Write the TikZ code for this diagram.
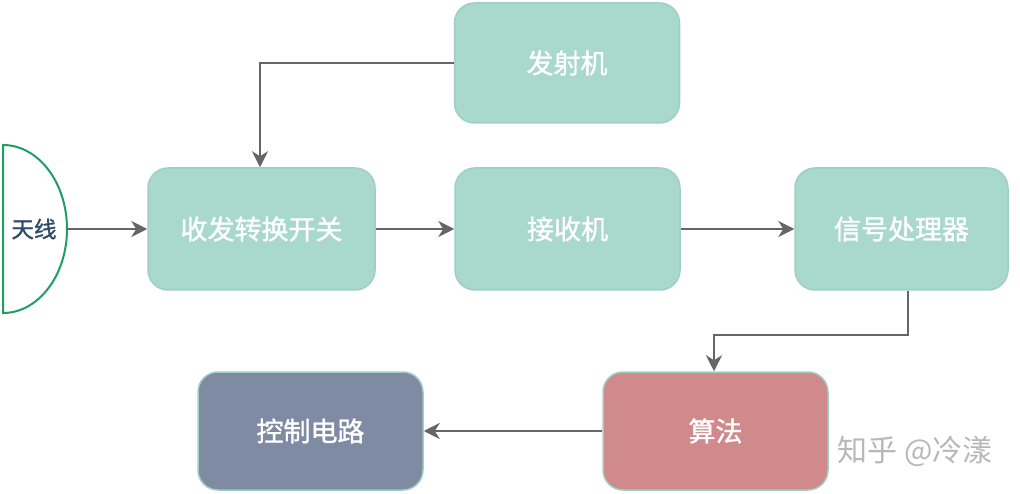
\documentclass[tikz,border=0pt]{standalone}
\usepackage{fontspec}
\setmainfont{Noto Sans CJK SC}
\newfontfamily\cjk[FakeBold=1.2]{Noto Sans CJK SC}
\newfontfamily\cjkplain{Noto Sans CJK SC}
\usetikzlibrary{arrows.meta,calc}
\definecolor{teal1}{HTML}{A9D8CC}
\definecolor{tealedge}{HTML}{9FCFC3}
\definecolor{red1}{HTML}{D08A8B}
\definecolor{slate1}{HTML}{7E8BA3}
\definecolor{arrgray}{HTML}{666666}
\definecolor{antgreen}{HTML}{1E9E60}
\definecolor{anttext}{HTML}{2D4A6A}
\tikzset{
  blk/.style={rounded corners=20pt, draw=tealedge, line width=1.5pt, minimum width=225pt, minimum height=120pt, text=white, font=\cjk\fontsize{27}{32}\selectfont, inner sep=0pt},
  arr/.style={draw=arrgray, line width=2pt, -{Stealth[length=16pt,width=16pt,inset=5pt]}},
}
\begin{document}
\begin{tikzpicture}[x=1pt,y=1pt]
\useasboundingbox (0,0) rectangle (1020,493);
% boxes
\node[blk, fill=teal1] (tx) at (567,430) {发射机};
\node[blk, fill=teal1, minimum width=227pt, minimum height=122pt] (sw) at (261.5,264) {收发转换开关};
\node[blk, fill=teal1, minimum height=122pt] (rx) at (567.5,264) {接收机};
\node[blk, fill=teal1, minimum width=213pt, minimum height=122pt] (pr) at (901.5,264) {信号处理器};
\node[blk, fill=red1, minimum height=118pt] (al) at (715.5,62) {算法};
\node[blk, fill=slate1, minimum height=118pt] (ct) at (310.5,62) {控制电路};
% antenna
\draw[antgreen, line width=2pt] (3,180) -- (3,348) arc[start angle=90, end angle=-90, x radius=64, y radius=84] -- cycle;
\node[text=anttext, font=\cjk\fontsize{22.5}{26}\selectfont, inner sep=0pt] (antlbl) at (34,264) {天线};
\coordinate (ant) at (67,264);
% connectors
\draw[arr] (ant) -- (sw.west);
\draw[arr] (sw.east) -- (rx.west);
\draw[arr] (rx.east) -- (pr.west);
\draw[arr] (tx.west) -| ([xshift=-1.5pt]sw.north);
\coordinate (bend) at (908,158);
\draw[arr] ([xshift=6.5pt]pr.south) -- (bend) -| ([xshift=-1.5pt]al.north);
\draw[arr] (al.west) -- (ct.east);
% watermark
\node[text=black!28, font=\cjkplain\fontsize{30}{34}\selectfont, inner sep=0pt] (wm) at (915,42) {知乎 @冷漾};
\end{tikzpicture}
\end{document}
